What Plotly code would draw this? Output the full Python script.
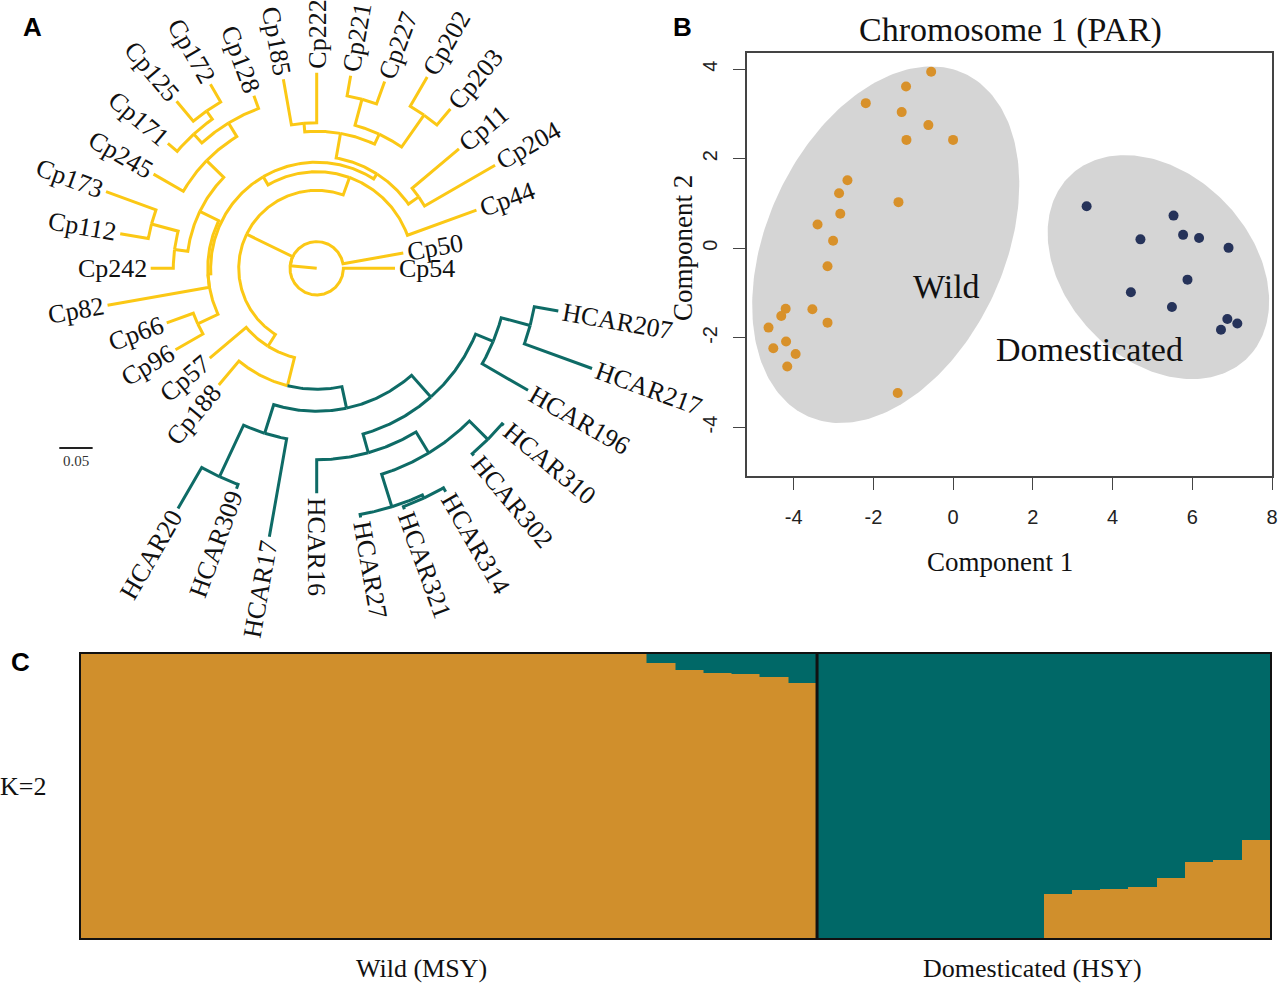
import numpy as np
import plotly.graph_objects as go

W, H = 1280, 985

# ======================= DATA =======================
# ---- Panel A: phylogeny (tip order = drawing order) ----
TREE = ("(Cp50,((Cp44,(((Cp204,Cp11)A1,(((Cp203,Cp202)T55,(Cp227,Cp221)T75)T65,(Cp222,Cp185)T95)TOP)RT,"
        "((((Cp128,((Cp172,Cp125)L5,Cp171)L4)L3,Cp245)L2,((Cp173,Cp112)L7,Cp242)L6)L1,Cp82,(Cp66,Cp96)M)LT)Q)U,"
        "(Cp57,(Cp188,(((HCAR20,HCAR309)H2,HCAR17)H1,((HCAR16,((HCAR27,(HCAR321,HCAR314)X2)X,(HCAR302,HCAR310)P)Z)HRa,"
        "(HCAR196,(HCAR217,HCAR207)HRc)HRb)HR)H)Y)N57)B,Cp54)ROOT;")
# distance of every node from the centre of the fan (substitutions/site, root edge included)
NODE_RADIUS = {
    "ROOT": 0.0400, "Cp50": 0.1318, "Cp54": 0.1174, "B": 0.1169,
    "U": 0.1448, "Cp44": 0.2549, "Q": 0.1590, "RT": 0.1679,
    "A1": 0.1867, "Cp204": 0.3088, "Cp11": 0.2784,
    "TOP": 0.2054, "T65": 0.2219, "T55": 0.2804, "Cp203": 0.3118, "Cp202": 0.3313,
    "T75": 0.2624, "Cp227": 0.2979, "Cp221": 0.2931,
    "T95": 0.2183, "Cp222": 0.2933, "Cp185": 0.2879,
    "LT": 0.1633, "L1": 0.1949, "L2": 0.2309, "L3": 0.2549, "Cp128": 0.2753,
    "L4": 0.2729, "L5": 0.2879, "Cp172": 0.3187, "Cp125": 0.3268, "Cp171": 0.2913, "Cp245": 0.2825,
    "L6": 0.2150, "L7": 0.2564, "Cp173": 0.3361, "Cp112": 0.2991, "Cp242": 0.2489,
    "Cp82": 0.3184, "M": 0.1969, "Cp66": 0.2393, "Cp96": 0.2444,
    "N57": 0.1379, "Cp57": 0.2093, "Y": 0.1814, "Cp188": 0.2283,
    "H": 0.2144, "H1": 0.2594, "H2": 0.3448, "HCAR20": 0.4159, "HCAR309": 0.3516, "HCAR17": 0.4088,
    "HR": 0.2579, "HRa": 0.2871, "HCAR16": 0.3373, "Z": 0.3238, "X": 0.3748, "HCAR27": 0.3793,
    "X2": 0.3801, "HCAR321": 0.3843, "HCAR314": 0.3868, "P": 0.3628, "HCAR302": 0.3663, "HCAR310": 0.3661,
    "HRb": 0.2864, "HCAR196": 0.3658, "HRc": 0.3313, "HCAR217": 0.4393, "HCAR207": 0.3678,
}
SCALE_BAR = 0.05

# ---- Panel B: PCA ----
wild_pc1 = [-0.55, -1.18, -2.19, -1.29, -0.62, -1.17, 0.00, -2.65, -2.86, -1.37, -2.83, -3.40,
            -3.01, -3.15, -4.20, -4.31, -3.53, -4.63, -3.15, -4.19, -4.51, -3.95, -4.16, -1.39]
wild_pc2 = [3.94, 3.61, 3.24, 3.04, 2.75, 2.42, 2.42, 1.52, 1.23, 1.03, 0.77, 0.53,
            0.17, -0.40, -1.35, -1.51, -1.36, -1.77, -1.66, -2.08, -2.23, -2.36, -2.64, -3.23]
dom_pc1 = [3.35, 5.53, 4.70, 5.77, 6.17, 6.91, 5.88, 4.46, 5.49, 6.88, 7.13, 6.72]
dom_pc2 = [0.94, 0.73, 0.20, 0.30, 0.23, 0.01, -0.70, -0.98, -1.31, -1.58, -1.68, -1.82]
# cluster ellipses: centre x, centre y, semi-axes, rotation (deg)
wild_ellipse = (-1.69, 0.08, 4.315, 2.906, 58.5)
dom_ellipse = (5.15, -0.42, 3.036, 2.179, -35.4)
pca_xticks = [-4, -2, 0, 2, 4, 6, 8]
pca_yticks = [-4, -2, 0, 2, 4]

# ---- Panel C: admixture K=2 ----
wild_teal = [0.0] * 20 + [0.033, 0.056, 0.068, 0.070, 0.080, 0.103]
dom_orange = [0.0] * 8 + [0.155, 0.170, 0.172, 0.178, 0.210, 0.268, 0.276, 0.345]

# ======================= STYLE =======================
YELLOW = "#FBC815"
TEAL_TREE = "#0E6B66"
ORANGE = "#D08F2C"
TEAL = "#006867"
PCA_ORANGE = "#D8912A"
NAVY = "#26335A"
SERIF = "Liberation Serif"
SANS = "Liberation Sans"
PX_PER_UNIT = 667.0          # tree scale (px per substitution/site)
CENTER = (316.7, 268.3)      # tree centre in page pixels

fig = go.Figure()

# ======================= PANEL A =======================
def parse_newick(s):
    s = s.strip().rstrip(';')
    pos = 0

    def node():
        nonlocal pos
        children = []
        if s[pos] == '(':
            pos += 1
            while True:
                children.append(node())
                if s[pos] == ',':
                    pos += 1
                elif s[pos] == ')':
                    pos += 1
                    break
        start = pos
        while pos < len(s) and s[pos] not in ',()':
            pos += 1
        return {"name": s[start:pos], "children": children}
    return node()

root = parse_newick(TREE)
tips = []

def collect(n):
    if not n["children"]:
        tips.append(n)
    for c in n["children"]:
        collect(c)
collect(root)
NT = len(tips)
for i, t in enumerate(tips):
    t["theta"] = 360.0 * (i + 1) / NT

def set_theta(n):
    if n["children"]:
        n["theta"] = float(np.mean([set_theta(c) for c in n["children"]]))
    return n["theta"]
set_theta(root)

def teal_clade(n):
    if not n["children"]:
        return n["name"].startswith("HCAR")
    return all(teal_clade(c) for c in n["children"])

segs = {"y": ([], []), "t": ([], [])}

def add(key, xs, ys):
    segs[key][0].extend(list(xs) + [None])
    segs[key][1].extend(list(ys) + [None])

def draw(n):
    rp = NODE_RADIUS[n["name"]]
    for c in n["children"]:
        key = "t" if teal_clade(c) else "y"
        rc = NODE_RADIUS[c["name"]]
        npt = max(2, int(abs(c["theta"] - n["theta"]) * 2) + 2)
        th = np.radians(np.linspace(n["theta"], c["theta"], npt))
        xs = list(rp * np.cos(th)) + [rc * np.cos(th[-1])]
        ys = list(rp * np.sin(th)) + [rc * np.sin(th[-1])]
        add(key, xs, ys)
        draw(c)

tr = np.radians(root["theta"])
add("y", [0, NODE_RADIUS["ROOT"] * np.cos(tr)], [0, NODE_RADIUS["ROOT"] * np.sin(tr)])
draw(root)

for key, col in (("y", YELLOW), ("t", TEAL_TREE)):
    fig.add_trace(go.Scatter(x=segs[key][0], y=segs[key][1], mode="lines",
                             line=dict(color=col, width=3), xaxis="x3", yaxis="y3",
                             hoverinfo="skip"))

CHARW = {"C": 0.667, "p": 0.5, "H": 0.722, "A": 0.722, "R": 0.667}
LABEL_SIZE = 26
annotations = []
for t in tips:
    name = t["name"]
    w = sum(CHARW.get(ch, 0.5) for ch in name) * LABEL_SIZE / PX_PER_UNIT
    r = NODE_RADIUS[name] + 4 / PX_PER_UNIT + w / 2
    ang = t["theta"] % 360
    th = np.radians(t["theta"])
    if 90 < ang < 270:
        tang = 180 - ang
    elif ang <= 90:
        tang = -ang
    else:
        tang = 360 - ang
    annotations.append(dict(x=r * np.cos(th), y=r * np.sin(th), xref="x3", yref="y3",
                            text=name, showarrow=False, textangle=tang,
                            xanchor="center", yanchor="middle",
                            font=dict(family=SERIF, size=LABEL_SIZE, color="#111")))

sb_x0 = (59.3 - CENTER[0]) / PX_PER_UNIT
sb_y = (CENTER[1] - 448) / PX_PER_UNIT
shapes = [dict(type="line", xref="x3", yref="y3", x0=sb_x0, x1=sb_x0 + SCALE_BAR,
               y0=sb_y, y1=sb_y, line=dict(color="#222", width=2))]
annotations.append(dict(x=sb_x0 + SCALE_BAR / 2, y=(CENTER[1] - 461) / PX_PER_UNIT, xref="x3", yref="y3",
                        text=f"{SCALE_BAR:.2f}", showarrow=False, xanchor="center", yanchor="middle",
                        font=dict(family=SERIF, size=15, color="#333")))

# ======================= PANEL B =======================
def ellipse_xy(e, n=240):
    cx, cy, a, b, ang = e
    t = np.linspace(0, 2 * np.pi, n)
    p = np.radians(ang)
    x = cx + a * np.cos(t) * np.cos(p) - b * np.sin(t) * np.sin(p)
    y = cy + a * np.cos(t) * np.sin(p) + b * np.sin(t) * np.cos(p)
    return x, y

for e in (wild_ellipse, dom_ellipse):
    ex, ey = ellipse_xy(e)
    fig.add_trace(go.Scatter(x=ex, y=ey, mode="lines", fill="toself", fillcolor="#D5D5D5",
                             line=dict(width=0, color="#D5D5D5"), xaxis="x", yaxis="y", hoverinfo="skip"))

fig.add_trace(go.Scatter(x=wild_pc1, y=wild_pc2, mode="markers",
                         marker=dict(color=PCA_ORANGE, size=10), xaxis="x", yaxis="y"))
fig.add_trace(go.Scatter(x=dom_pc1, y=dom_pc2, mode="markers",
                         marker=dict(color=NAVY, size=10), xaxis="x", yaxis="y"))

def txt(x, y, text, size, xref="paper", yref="paper", angle=0, family=SERIF, color="#111"):
    return dict(x=x, y=y, xref=xref, yref=yref, text=text, showarrow=False, textangle=angle,
                xanchor="center", yanchor="middle", font=dict(family=family, size=size, color=color))

annotations += [
    txt(-0.16, -0.86, "Wild", 34, "x", "y"),
    txt(3.43, -2.27, "Domesticated", 34, "x", "y"),
    txt(1010 / W, 1 - 30 / H, "Chromosome 1 (PAR)", 34),
    txt(1000 / W, 1 - 562 / H, "Component 1", 27),
    txt(683 / W, 1 - 248 / H, "Component 2", 27, angle=-90),
]

# ======================= PANEL C =======================
n_wild = len(wild_teal)
n_dom = len(dom_orange)
orange_vals = [1 - v for v in wild_teal] + dom_orange
teal_vals = wild_teal + [1 - v for v in dom_orange]
xs = list(range(n_wild + n_dom))
fig.add_trace(go.Bar(x=xs, y=orange_vals, marker=dict(color=ORANGE, line=dict(color=ORANGE, width=0.5)),
                     width=1, xaxis="x2", yaxis="y2", hoverinfo="skip"))
fig.add_trace(go.Bar(x=xs, y=teal_vals, marker=dict(color=TEAL, line=dict(color=TEAL, width=0.5)),
                     width=1, xaxis="x2", yaxis="y2", hoverinfo="skip"))
shapes.append(dict(type="line", xref="x2", yref="y2", x0=n_wild - 0.5, x1=n_wild - 0.5, y0=0, y1=1,
                   line=dict(color="#111", width=3)))
annotations += [
    txt(421 / W, 1 - 968 / H, "Wild (MSY)", 26),
    txt(1032 / W, 1 - 968 / H, "Domesticated (HSY)", 26),
    txt(23 / W, 1 - 786 / H, "K=2", 26),
]

for letter, (px, py) in {"A": (32, 27), "B": (682, 27), "C": (20, 662)}.items():
    annotations.append(txt(px / W, 1 - py / H, f"<b>{letter}</b>", 26, family=SANS, color="#000"))

# ======================= LAYOUT =======================
axis_common = dict(showgrid=False, zeroline=False, automargin=False)
fig.update_layout(
    width=W, height=H, autosize=False, margin=dict(l=0, r=0, t=0, b=0, pad=0, autoexpand=False),
    paper_bgcolor="white", plot_bgcolor="white", showlegend=False,
    barmode="stack", bargap=0,
    xaxis=dict(domain=[747 / W, 1272 / W], range=[-5.17, 8.0], tickvals=pca_xticks,
               ticktext=[str(v) for v in pca_xticks],
               ticks="outside", ticklen=12, tickwidth=1.2, tickcolor="#444",
               showline=True, mirror=True, linecolor="#444", linewidth=1.5,
               tickfont=dict(family=SANS, size=20, color="#222"), ticklabelstandoff=10,
               anchor="y", **axis_common),
    yaxis=dict(domain=[1 - 476 / H, 1 - 53.3 / H], range=[-5.083, 4.353], tickvals=pca_yticks,
               ticktext=[str(v) for v in pca_yticks],
               ticks="outside", ticklen=12, tickwidth=1.2, tickcolor="#444", tickangle=-90,
               showline=True, mirror=True, linecolor="#444", linewidth=1.5,
               tickfont=dict(family=SANS, size=20, color="#222"), ticklabelstandoff=8,
               anchor="x", **axis_common),
    xaxis2=dict(domain=[81 / W, 1270 / W], range=[-0.5, n_wild + n_dom - 0.5], showticklabels=False,
                ticks="", showline=True, mirror=True, linecolor="#111", linewidth=2, anchor="y2",
                **axis_common),
    yaxis2=dict(domain=[1 - 938 / H, 1 - 654 / H], range=[0, 1], showticklabels=False, ticks="",
                showline=True, mirror=True, linecolor="#111", linewidth=2, anchor="x2", **axis_common),
    xaxis3=dict(domain=[0, 680 / W], range=[-CENTER[0] / PX_PER_UNIT, (680 - CENTER[0]) / PX_PER_UNIT],
                visible=False, anchor="y3", **axis_common),
    yaxis3=dict(domain=[1 - 640 / H, 1], range=[(CENTER[1] - 640) / PX_PER_UNIT, CENTER[1] / PX_PER_UNIT],
                visible=False, anchor="x3", **axis_common),
    annotations=annotations, shapes=shapes,
)

fig.write_html("out.html", config={"displayModeBar": False},
               post_script="document.body.style.margin='0';document.body.style.overflow='hidden';")
